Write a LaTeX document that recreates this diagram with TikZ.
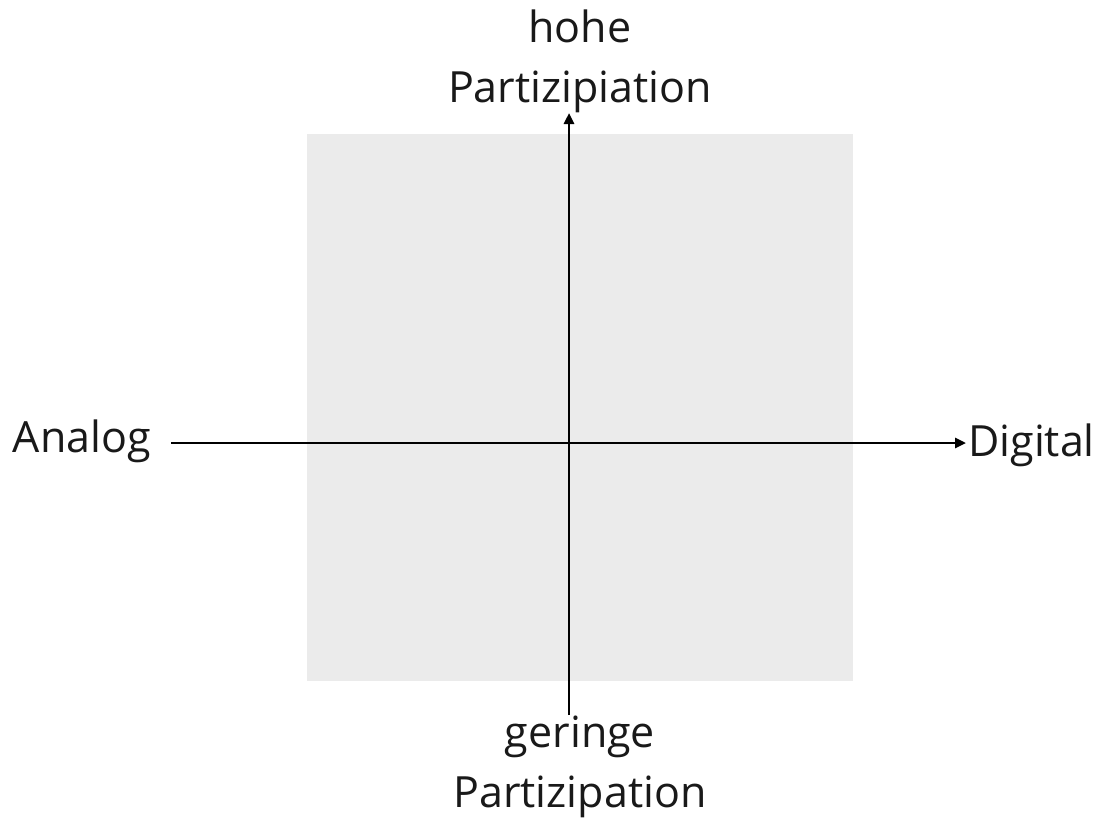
\documentclass[tikz,border=0pt]{standalone}
\usepackage{fontspec}
\setmainfont{Open Sans}
\usetikzlibrary{arrows.meta}
\definecolor{quadrant}{HTML}{EBEBEB}
\begin{document}
\begin{tikzpicture}[x=1pt,y=-1pt,
  axis/.style={line width=2.6pt,-{Triangle[length=11pt,width=10pt]}},
  lbl/.style={font=\fontsize{43}{60}\selectfont,text=black!90,align=center,inner sep=0pt}]
\useasboundingbox (0,0) rectangle (1099,820);
\fill[quadrant] (307,134) rectangle (853,681);
\coordinate (left) at (171,443);
\coordinate (right) at (966,443);
\coordinate (bottom) at (569,715);
\coordinate (top) at (569,113);
\draw[axis] (left) -- (right);
\draw[axis] (bottom) -- (top);
\node[lbl,anchor=east] (analog) at (151,441) {Analog};
\node[lbl,anchor=west] (digital) at (968,445) {Digital};
\node[lbl] (high) at (580,61) {hohe\\Partizipiation};
\node[lbl] (low) at (580,767) {geringe\\Partizipation};
\end{tikzpicture}
\end{document}
